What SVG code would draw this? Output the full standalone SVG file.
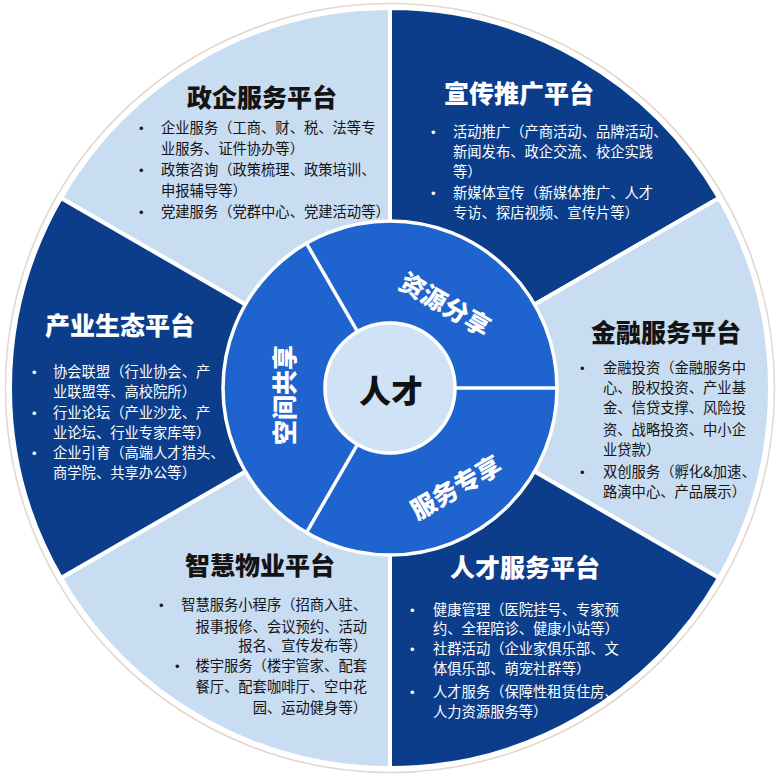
<svg xmlns="http://www.w3.org/2000/svg" width="782" height="777" viewBox="0 0 782 777">
  <defs>
    <style>
      .light { fill: #C8DCF2; stroke: #FFFFFF; stroke-width: 4; stroke-linejoin: round; }
      .dark { fill: #0B3D8B; stroke: #FFFFFF; stroke-width: 4; stroke-linejoin: round; }
      .t { font-family: "Noto Sans CJK SC", "Noto Sans", sans-serif; font-size: 25px; font-weight: 900; text-anchor: middle; }
      .b { font-family: "Noto Sans CJK SC", "Noto Sans", sans-serif; font-size: 14.3px; }
      .dk { fill: #141414; }
      .wt { fill: #FFFFFF; }
      .bul { font-family: "Liberation Sans", "DejaVu Sans", sans-serif; font-size: 13px; }
      .ring { font-family: "Noto Sans CJK SC", "Noto Sans", sans-serif; font-size: 25px; font-weight: 900; fill: #FFFFFF; text-anchor: middle; dominant-baseline: central; }
      .div { stroke: #FFFFFF; stroke-width: 3.5; }
    </style>
  </defs>
  <rect width="782" height="777" fill="#FFFFFF"/>
  <circle cx="390" cy="388" r="384.5" fill="none" stroke="#E3D6CC" stroke-width="1.5"/>

  <g id="zhengqi">
    <path class="light" d="M390 388 L60.91 198 A380 380 0 0 1 390 8 Z"/>
    <text class="t dk" x="262" y="107">政企服务平台</text>
    <text class="bul dk" x="139" y="133">•</text>
    <text class="b dk" x="161" y="133">企业服务（工商、财、税、法等专</text>
    <text class="b dk" x="161" y="154">业服务、证件协办等）</text>
    <text class="bul dk" x="139" y="175">•</text>
    <text class="b dk" x="161" y="175">政策咨询（政策梳理、政策培训、</text>
    <text class="b dk" x="161" y="196">申报辅导等）</text>
    <text class="bul dk" x="139" y="217">•</text>
    <text class="b dk" x="161" y="217">党建服务（党群中心、党建活动等）</text>
  </g>

  <g id="xuanchuan">
    <path class="dark" d="M390 388 L390 8 A380 380 0 0 1 719.09 198 Z"/>
    <text class="t wt" x="519" y="103">宣传推广平台</text>
    <text class="bul wt" x="431" y="137">•</text>
    <text class="b wt" x="453" y="137">活动推广（产商活动、品牌活动、</text>
    <text class="b wt" x="453" y="157">新闻发布、政企交流、校企实践</text>
    <text class="b wt" x="453" y="177">等）</text>
    <text class="bul wt" x="431" y="198">•</text>
    <text class="b wt" x="453" y="198">新媒体宣传（新媒体推广、人才</text>
    <text class="b wt" x="453" y="218">专访、探店视频、宣传片等）</text>
  </g>

  <g id="jinrong">
    <path class="light" d="M390 388 L719.09 198 A380 380 0 0 1 719.09 578 Z"/>
    <text class="t dk" x="666" y="342">金融服务平台</text>
    <text class="bul dk" x="580" y="373">•</text>
    <text class="b dk" x="603" y="373">金融投资（金融服务中</text>
    <text class="b dk" x="603" y="393">心、股权投资、产业基</text>
    <text class="b dk" x="603" y="413">金、信贷支撑、风险投</text>
    <text class="b dk" x="603" y="435">资、战略投资、中小企</text>
    <text class="b dk" x="603" y="455">业贷款）</text>
    <text class="bul dk" x="580" y="477">•</text>
    <text class="b dk" x="603" y="477">双创服务（孵化&amp;加速、</text>
    <text class="b dk" x="603" y="497">路演中心、产品展示）</text>
  </g>

  <g id="rencai">
    <path class="dark" d="M390 388 L719.09 578 A380 380 0 0 1 390 768 Z"/>
    <text class="t wt" x="525" y="577">人才服务平台</text>
    <text class="bul wt" x="410" y="615">•</text>
    <text class="b wt" x="433" y="615">健康管理（医院挂号、专家预</text>
    <text class="b wt" x="433" y="634">约、全程陪诊、健康小站等）</text>
    <text class="bul wt" x="410" y="654">•</text>
    <text class="b wt" x="433" y="654">社群活动（企业家俱乐部、文</text>
    <text class="b wt" x="433" y="674">体俱乐部、萌宠社群等）</text>
    <text class="bul wt" x="410" y="697">•</text>
    <text class="b wt" x="433" y="697">人才服务（保障性租赁住房、</text>
    <text class="b wt" x="433" y="717">人力资源服务等）</text>
  </g>

  <g id="zhihui">
    <path class="light" d="M390 388 L390 768 A380 380 0 0 1 60.91 578 Z"/>
    <text class="t dk" x="260" y="575">智慧物业平台</text>
    <text class="bul dk" x="159" y="610">•</text>
    <text class="b dk" x="367" y="610" text-anchor="end">智慧服务小程序（招商入驻、</text>
    <text class="b dk" x="367" y="632" text-anchor="end">报事报修、会议预约、活动</text>
    <text class="b dk" x="367" y="651" text-anchor="end">报名、宣传发布等）</text>
    <text class="bul dk" x="175" y="671">•</text>
    <text class="b dk" x="367" y="671" text-anchor="end">楼宇服务（楼宇管家、配套</text>
    <text class="b dk" x="367" y="692" text-anchor="end">餐厅、配套咖啡厅、空中花</text>
    <text class="b dk" x="367" y="713" text-anchor="end">园、运动健身等）</text>
  </g>

  <g id="chanye">
    <path class="dark" d="M390 388 L60.91 578 A380 380 0 0 1 60.91 198 Z"/>
    <text class="t wt" x="120" y="335">产业生态平台</text>
    <text class="bul wt" x="32" y="377">•</text>
    <text class="b wt" x="53" y="377">协会联盟（行业协会、产</text>
    <text class="b wt" x="53" y="397">业联盟等、高校院所）</text>
    <text class="bul wt" x="32" y="418">•</text>
    <text class="b wt" x="53" y="418">行业论坛（产业沙龙、产</text>
    <text class="b wt" x="53" y="438">业论坛、行业专家库等）</text>
    <text class="bul wt" x="32" y="458">•</text>
    <text class="b wt" x="53" y="458">企业引育（高端人才猎头、</text>
    <text class="b wt" x="53" y="478">商学院、共享办公等）</text>
  </g>

  <g id="inner-ring">
    <circle cx="390" cy="388" r="167" fill="#1F63CE" stroke="#FFFFFF" stroke-width="3.5"/>
  </g>

  <g id="connectors">
    <line class="div" x1="455" y1="388" x2="557" y2="388"/>
    <line class="div" x1="357.5" y1="444.3" x2="306.5" y2="532.6"/>
    <line class="div" x1="357.5" y1="331.7" x2="306.5" y2="243.4"/>
  </g>

  <g id="ziyuan">
    <text class="ring" transform="translate(446 303) rotate(30)">资源分享</text>
  </g>
  <g id="fuwu">
    <text class="ring" transform="translate(455 486) rotate(-30)">服务专享</text>
  </g>
  <g id="kongjian">
    <text class="ring" transform="translate(283 395) rotate(-90)">空间共享</text>
  </g>

  <g id="center">
    <circle cx="390" cy="388" r="65" fill="#D0E3F6" stroke="#FFFFFF" stroke-width="3.5"/>
    <text x="391" y="389" font-family="Noto Sans CJK SC, Noto Sans, sans-serif" font-size="32" font-weight="900" fill="#111111" text-anchor="middle" dominant-baseline="central">人才</text>
  </g>
</svg>
